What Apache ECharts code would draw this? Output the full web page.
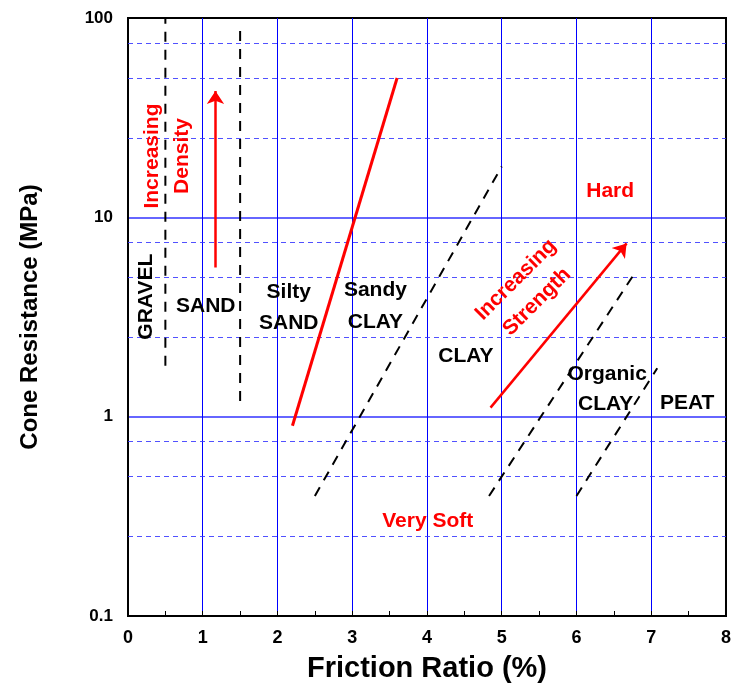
<!DOCTYPE html>
<html>
<head>
<meta charset="utf-8">
<script src="https://cdn.jsdelivr.net/npm/echarts@6/dist/echarts.min.js"></script>
<style>
html, body { margin: 0; padding: 0; background: #fff; }
#chart { width: 734px; height: 690px; }
</style>
</head>
<body>
<div id="chart"></div>
<script>
// =====================================
// Data
// =====================================

const xTicks = [0, 1, 2, 3, 4, 5, 6, 7, 8];
const yTicks = [0.1, 1, 10, 100];
const yDashedGrid = [0.25, 0.5, 0.75, 2.5, 5, 7.5, 25, 50, 75];

// zone boundaries (black dashed)
const gravelSandLine = [[0.5, 1.8], [0.5, 100]];
const sandSiltyLine = [[1.5, 1.2], [1.5, 89]];
const sandyClayLine = [[2.5, 0.4], [5.0, 18]];
const clayOrganicLine = [[4.83, 0.4], [6.8, 5.4]];
const organicPeatLine = [[6.0, 0.4], [7.08, 1.75]];

// sand / clay divide (red solid)
const sandClayLine = [[2.2, 0.9], [3.6, 50]];

// arrows
const densityArrow = [[1.17, 5.6], [1.17, 43]];
const strengthArrow = [[4.85, 1.11], [6.67, 7.4]];

// zone names [x, y, text]
const zoneNames = [
    [1.04, 3.6, "SAND"],
    [2.15, 4.2, "Silty"],
    [2.15, 2.96, "SAND"],
    [3.31, 4.3, "Sandy"],
    [3.31, 2.99, "CLAY"],
    [4.52, 2.02, "CLAY"],
    [6.41, 1.64, "Organic"],
    [6.39, 1.15, "CLAY"],
    [7.48, 1.17, "PEAT"]
];
const gravelName = [0.25, 4.0, "GRAVEL"];

const redNames = [
    [6.45, 13.6, "Hard"],
    [4.01, 0.30, "Very Soft"]
];
const densityNames = [
    [0.33, 20.3, "Increasing"],
    [0.73, 20.3, "Density"]
];
const strengthNames = [
    [5.19, 4.86, "Increasing"],
    [5.47, 3.77, "Strength"]
];

// =====================================
// Helpers
// =====================================

const FONT = "Liberation Sans";

function segment(name, pts, color, dashed) {
    return {
        name: name,
        type: "line",
        data: pts,
        symbol: "none",
        silent: true,
        z: 5,
        lineStyle: {
            color: color,
            width: dashed ? 2 : 3,
            type: dashed ? [10, 8] : "solid"
        }
    };
}

function arrow(name, pts) {
    return {
        name: name,
        type: "lines",
        coordinateSystem: "cartesian2d",
        silent: true,
        z: 6,
        symbol: ["none", "arrow"],
        symbolSize: [0, 13],
        lineStyle: { color: "#ff0000", width: 2.5, opacity: 1 },
        data: [{ coords: pts }]
    };
}

function textSeries(name, rows, color, rotate, size) {
    return {
        name: name,
        type: "scatter",
        symbolSize: 0,
        silent: true,
        z: 8,
        itemStyle: { opacity: 1 },
        data: rows.map(r => ({ value: [r[0], r[1]], name: r[2] })),
        label: {
            show: true,
            position: "inside",
            formatter: "{b}",
            rotate: rotate,
            color: color,
            opacity: 1,
            textBorderWidth: 0,
            fontFamily: FONT,
            fontWeight: "bold",
            fontSize: size
        }
    };
}

// =====================================
// Chart
// =====================================

document.addEventListener("DOMContentLoaded", initChart);

function initChart() {
    const chart = echarts.init(document.getElementById("chart"));

    chart.setOption({
        animation: false,
        grid: {
            left: 128,
            right: 6,
            top: 18,
            bottom: 74,
            show: true,
            borderColor: "#000",
            borderWidth: 2
        },
        xAxis: {
            type: "value",
            min: xTicks[0],
            max: xTicks[xTicks.length - 1],
            interval: 1,
            name: "Friction Ratio (%)",
            nameLocation: "middle",
            nameGap: 38,
            nameTextStyle: {
                fontFamily: FONT,
                fontWeight: "bold",
                fontSize: 29,
                color: "#000"
            },
            axisLine: { lineStyle: { color: "#000", width: 2 } },
            axisTick: { inside: true, length: 5, lineStyle: { color: "#000" } },
            minorTick: { show: true, splitNumber: 2, length: 5, lineStyle: { color: "#000" } },
            axisLabel: {
                margin: 13,
                fontFamily: FONT,
                fontWeight: "bold",
                fontSize: 18,
                color: "#000"
            },
            splitLine: {
                show: true,
                showMinLine: false,
                showMaxLine: false,
                lineStyle: { color: "#0000ff", width: 1 }
            }
        },
        yAxis: {
            type: "log",
            logBase: 10,
            min: yTicks[0],
            max: yTicks[yTicks.length - 1],
            name: "Cone Resistance (MPa)",
            nameLocation: "middle",
            nameGap: 86,
            nameRotate: 90,
            nameTextStyle: {
                fontFamily: FONT,
                fontWeight: "bold",
                fontSize: 24,
                color: "#000"
            },
            axisLine: { lineStyle: { color: "#000", width: 2 } },
            axisTick: { show: false },
            axisLabel: {
                margin: 15,
                fontFamily: FONT,
                fontWeight: "bold",
                fontSize: 17,
                color: "#000",
                formatter: v => String(v)
            },
            splitLine: {
                show: true,
                showMinLine: false,
                showMaxLine: false,
                lineStyle: { color: "#3333ff", width: 1.5 }
            }
        },
        series: [
            {
                name: "dashed grid",
                type: "line",
                data: [],
                silent: true,
                z: 1,
                markLine: {
                    silent: true,
                    symbol: "none",
                    label: { show: false },
                    lineStyle: { color: "#3333ff", width: 1, type: [5, 4], opacity: 0.85 },
                    data: yDashedGrid.map(v => ({ yAxis: v }))
                }
            },
            segment("gravel-sand", gravelSandLine, "#000", true),
            segment("sand-silty", sandSiltyLine, "#000", true),
            segment("sandy-clay", sandyClayLine, "#000", true),
            segment("clay-organic", clayOrganicLine, "#000", true),
            segment("organic-peat", organicPeatLine, "#000", true),
            segment("sand-clay", sandClayLine, "#ff0000", false),
            arrow("density", densityArrow),
            arrow("strength", strengthArrow),
            textSeries("zones", zoneNames, "#000", 0, 21),
            textSeries("gravel", [gravelName], "#000", 90, 21),
            textSeries("hard-soft", redNames, "#ff0000", 0, 21),
            textSeries("density text", densityNames, "#ff0000", 90, 21),
            textSeries("strength text", strengthNames, "#ff0000", 45, 21)
        ]
    });
}
</script>
</body>
</html>
